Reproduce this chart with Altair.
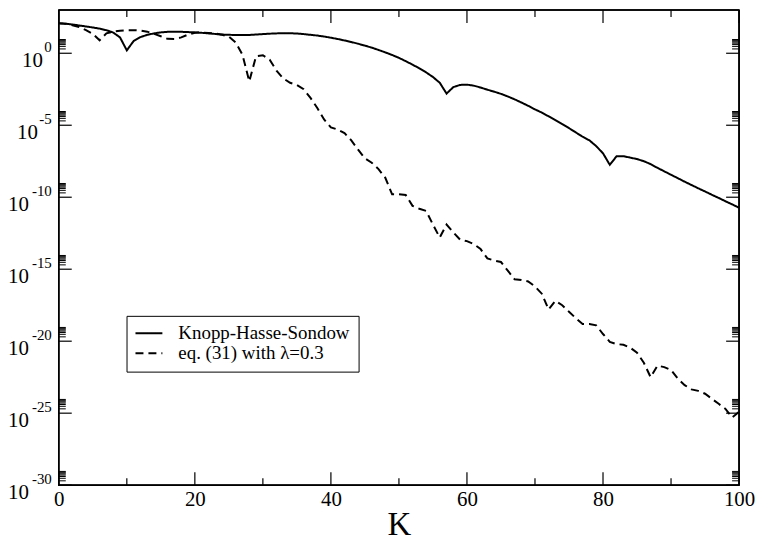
import altair as alt
import pandas as pd

# ---- data (log10 of the plotted values) ----
K = list(range(0, 101))

khs_log10 = [
    2.08, 2.05, 2.00, 1.93, 1.86, 1.79, 1.71, 1.60, 1.44, 1.10,
    0.20, 0.85, 1.12, 1.28, 1.38, 1.45, 1.49, 1.50, 1.49, 1.47,
    1.45, 1.42, 1.38, 1.34, 1.30, 1.28, 1.27, 1.27, 1.27, 1.30,
    1.33, 1.36, 1.38, 1.39, 1.39, 1.37, 1.33, 1.28, 1.23, 1.16,
    1.08, 0.99, 0.89, 0.78, 0.66, 0.53, 0.39, 0.23, 0.06, -0.12,
    -0.32, -0.55, -0.79, -1.05, -1.33, -1.65, -2.05, -2.80, -2.35, -2.20,
    -2.18, -2.25, -2.38, -2.53, -2.67, -2.82, -3.00, -3.20, -3.42, -3.65,
    -3.90, -4.12, -4.38, -4.65, -4.92, -5.20, -5.50, -5.80, -6.05, -6.45,
    -6.95, -7.75, -7.15, -7.15, -7.25, -7.35, -7.50, -7.70, -7.96, -8.20,
    -8.44, -8.68, -8.92, -9.15, -9.38, -9.60, -9.83, -10.05, -10.28, -10.50,
    -10.73,
]

eq31_log10 = [
    2.08, 2.05, 1.95, 1.82, 1.60, 1.35, 0.90, 1.38, 1.50, 1.57,
    1.60, 1.60, 1.58, 1.50, 1.35, 1.18, 1.00, 0.99, 1.10, 1.30,
    1.43, 1.44, 1.41, 1.37, 1.28, 1.15, 0.75, -0.10, -1.95, -0.20,
    -0.14, -0.45, -1.20, -1.75, -2.05, -2.20, -2.50, -3.10, -3.80, -4.60,
    -5.15, -5.30, -5.55, -6.05, -6.70, -7.30, -7.60, -8.05, -8.65, -9.80,
    -9.80, -9.85, -10.60, -10.80, -10.95, -11.90, -12.80, -11.90, -12.45, -12.95,
    -13.05, -13.25, -13.60, -14.25, -14.40, -14.50, -15.10, -15.70, -15.75, -15.85,
    -16.20, -16.70, -17.80, -17.20, -17.50, -17.95, -18.40, -18.80, -18.80, -18.90,
    -19.50, -20.05, -20.20, -20.25, -20.45, -20.80, -21.50, -22.50, -21.70, -21.80,
    -22.00, -22.60, -23.05, -23.35, -23.45, -23.65, -24.00, -24.35, -24.70, -25.30,
    -24.90,
]

series_names = ["Knopp-Hasse-Sondow", "eq. (31) with \u03bb=0.3"]

x_major = [0, 20, 40, 60, 80, 100]
x_minor = [10, 30, 50, 70, 90]
y_major_exp = [0, -5, -10, -15, -20, -25, -30]
y_minor_mult = [2, 3, 4, 5, 6, 7, 8, 9]

# ---- tables ----
rows = []
for k, a, b in zip(K, khs_log10, eq31_log10):
    rows.append({"K": k, "value": 10.0 ** a, "series": series_names[0]})
    rows.append({"K": k, "value": 10.0 ** b, "series": series_names[1]})
lines_df = pd.DataFrame(rows)

ymaj_df = pd.DataFrame({"v": [10.0 ** e for e in y_major_exp],
                        "exp": [str(e) for e in y_major_exp]})
ymin_df = pd.DataFrame({"v": [m * 10.0 ** e for e in y_major_exp for m in y_minor_mult]})
xmaj_df = pd.DataFrame({"x": x_major})
xmin_df = pd.DataFrame({"x": x_minor})
frame_df = pd.DataFrame({"f": [0]})

W, H = 683, 477
FONT = "Liberation Serif, Times New Roman, serif"

xs = alt.Scale(domain=[0, 100], nice=False, zero=False)
ys = alt.Scale(type="log", domain=[1e-30, 1e3], nice=False)

lines = alt.Chart(lines_df).mark_line(color="black", strokeWidth=2, clip=True).encode(
    x=alt.X("K:Q", scale=xs,
            axis=alt.Axis(values=x_major, ticks=False, domain=False, grid=False,
                          labelFlush=False,
                          labelFont=FONT, labelFontSize=21, labelColor="black",
                          labelPadding=3, title="K", titleFont=FONT,
                          titleFontSize=33, titleFontWeight="normal",
                          titleColor="black", titlePadding=0)),
    y=alt.Y("value:Q", scale=ys, axis=None),
    strokeDash=alt.StrokeDash(
        "series:N",
        scale=alt.Scale(domain=series_names, range=[[1, 0], [8, 5]]),
        legend=alt.Legend(orient="none", legendX=68, legendY=307, title=None,
                          strokeColor="black", fillColor="white", padding=8,
                          symbolType="stroke", symbolSize=729,
                          symbolStrokeColor="black", symbolStrokeWidth=2,
                          labelFont=FONT, labelFontSize=19, labelColor="black",
                          labelOffset=15, clipHeight=19, rowPadding=0,
                          labelLimit=400),
    ),
)

# plot frame drawn as four rules
fr = alt.Chart(frame_df)
frame_layers = [
    fr.mark_rule(color="black", strokeWidth=1.6).encode(
        x=alt.value(0), y=alt.value(0), y2=alt.value(H)),
    fr.mark_rule(color="black", strokeWidth=1.6).encode(
        x=alt.value(W), y=alt.value(0), y2=alt.value(H)),
    fr.mark_rule(color="black", strokeWidth=1.6).encode(
        y=alt.value(0), x=alt.value(0), x2=alt.value(W)),
    fr.mark_rule(color="black", strokeWidth=1.6).encode(
        y=alt.value(H), x=alt.value(0), x2=alt.value(W)),
]

# y ticks (inward, both sides)
ymaj_l = alt.Chart(ymaj_df).mark_rule(color="black", strokeWidth=1.2).encode(
    y=alt.Y("v:Q", scale=ys), x=alt.value(0), x2=alt.value(13))
ymaj_r = alt.Chart(ymaj_df).mark_rule(color="black", strokeWidth=1.2).encode(
    y=alt.Y("v:Q", scale=ys), x=alt.value(W - 13), x2=alt.value(W))
ymin_l = alt.Chart(ymin_df).mark_rule(color="black", strokeWidth=1).encode(
    y=alt.Y("v:Q", scale=ys), x=alt.value(0), x2=alt.value(7))
ymin_r = alt.Chart(ymin_df).mark_rule(color="black", strokeWidth=1).encode(
    y=alt.Y("v:Q", scale=ys), x=alt.value(W - 7), x2=alt.value(W))

# x ticks (inward, top and bottom)
xmaj_b = alt.Chart(xmaj_df).mark_rule(color="black", strokeWidth=1.2).encode(
    x=alt.X("x:Q", scale=xs), y=alt.value(H - 13), y2=alt.value(H))
xmaj_t = alt.Chart(xmaj_df).mark_rule(color="black", strokeWidth=1.2).encode(
    x=alt.X("x:Q", scale=xs), y=alt.value(0), y2=alt.value(13))
xmin_b = alt.Chart(xmin_df).mark_rule(color="black", strokeWidth=1.2).encode(
    x=alt.X("x:Q", scale=xs), y=alt.value(H - 7), y2=alt.value(H))
xmin_t = alt.Chart(xmin_df).mark_rule(color="black", strokeWidth=1.2).encode(
    x=alt.X("x:Q", scale=xs), y=alt.value(0), y2=alt.value(7))

# y tick labels: "10" with superscript exponent
sup = alt.Chart(ymaj_df).mark_text(align="right", baseline="alphabetic", font=FONT,
                                   fontSize=15, color="black", dy=-1.5).encode(
    y=alt.Y("v:Q", scale=ys), x=alt.value(-7), text="exp:N")

base_layers = []
for n, off in [(1, -16), (2, -21), (3, -30)]:
    base_layers.append(
        alt.Chart(ymaj_df).transform_filter(f"length(datum.exp) == {n}")
        .mark_text(align="right", baseline="alphabetic", font=FONT, fontSize=21,
                   color="black", dy=13.5)
        .encode(y=alt.Y("v:Q", scale=ys), x=alt.value(off),
                text=alt.value("10"))
    )

chart = alt.layer(
    lines, *frame_layers, ymaj_l, ymaj_r, ymin_l, ymin_r,
    xmaj_b, xmaj_t, xmin_b, xmin_t, sup, *base_layers,
).properties(
    width=W, height=H,
    background="white",
    padding=0,
).configure_view(stroke="black", strokeWidth=1.5)

chart.save("out.html", embed_options={"renderer": "svg", "actions": False})
